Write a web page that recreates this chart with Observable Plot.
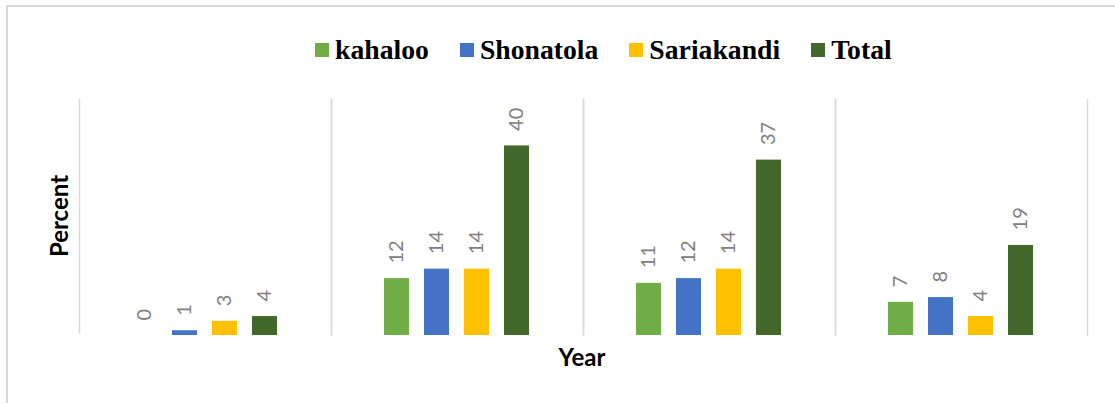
<!DOCTYPE html>
<html>
<head>
<meta charset="utf-8">
<script src="https://cdn.jsdelivr.net/npm/d3@7"></script>
<script src="https://cdn.jsdelivr.net/npm/@observablehq/plot@0.6"></script>
<style>
  html, body { margin: 0; padding: 0; background: #fff; }
  #wrap { position: relative; width: 1115px; height: 403px; overflow: hidden; background: #fff; }
  #border { position: absolute; left: 6px; top: 5px; width: 1200px; height: 500px;
            border-top: 2px solid #d9d9d9; border-left: 2px solid #d9d9d9; box-sizing: border-box; }
  #chart { position: absolute; left: 0; top: 0; }
  #legend { position: absolute; left: 315px; top: 33px; height: 34px; display: flex; align-items: center;
            font-family: "Liberation Serif", "Times New Roman", serif; font-weight: bold; font-size: 27.7px; color: #000; }
  .item { display: flex; align-items: center; margin-right: 31px; white-space: nowrap; }
  .sw { width: 14px; height: 14px; margin-right: 6px; flex: none; }
  #ylab { position: absolute; left: 58px; top: 216px; transform: translate(-50%, -50%) rotate(-90deg);
          font-family: Lato, sans-serif; font-weight: bold; font-size: 24px; color: #000; white-space: nowrap; }
  #xlab { position: absolute; left: 582px; top: 356px; transform: translate(-50%, -50%);
          font-family: Lato, sans-serif; font-weight: bold; font-size: 24px; color: #000; white-space: nowrap; }
</style>
</head>
<body>
<div id="wrap">
  <div id="border"></div>
  <div id="chart"></div>
  <div id="legend"></div>
  <div id="ylab">Percent</div>
  <div id="xlab">Year</div>
</div>
<script>
// Data
const groups = ["Group 1", "Group 2", "Group 3", "Group 4"];
const series = ["kahaloo", "Shonatola", "Sariakandi", "Total"];
const kahaloo    = [0, 12, 11, 7];
const shonatola  = [1, 14, 12, 8];
const sariakandi = [3, 14, 14, 4];
const total      = [4, 40, 37, 19];
const colors = ["#70AD47", "#4472C4", "#FFC000", "#43682B"];

const seriesValues = [kahaloo, shonatola, sariakandi, total];
const data = groups.flatMap((g, i) => series.map((s, j) => ({group: g, series: s, value: seriesValues[j][i]})));

const W = 1115, H = 403, mT = 98, mB = 68, mL = 77, mR = 27;
const facetW = (W - mL - mR) / groups.length;
const facetH = H - mT - mB;

const chart = Plot.plot({
  width: W,
  height: H,
  marginTop: mT,
  marginBottom: mB,
  marginLeft: mL,
  marginRight: mR,
  style: {background: "transparent"},
  fx: {domain: groups, padding: 0, axis: null},
  x: {domain: series, paddingInner: 0.366, paddingOuter: 1.266, axis: null},
  y: {domain: [0, 50], axis: null},
  color: {domain: series, range: colors},
  marks: [
    Plot.frame({stroke: "#d9d9d9", strokeWidth: 1.5,
      strokeDasharray: `0 ${facetW} ${facetH} ${facetW} ${facetH}`}),
    Plot.barY(data, {fx: "group", x: "series", y: "value", fill: "series"}),
    Plot.text(data, {fx: "group", x: "series", y: "value", text: d => String(d.value),
      rotate: -90, textAnchor: "start", dy: -15, fill: "#808080",
      fontSize: 20, fontFamily: "Lato, sans-serif"})
  ]
});
document.getElementById("chart").appendChild(chart);

const legend = document.getElementById("legend");
series.forEach((s, i) => {
  const item = document.createElement("div");
  item.className = "item";
  const sw = document.createElement("span");
  sw.className = "sw";
  sw.style.background = colors[i];
  const t = document.createElement("span");
  t.textContent = s;
  item.appendChild(sw);
  item.appendChild(t);
  legend.appendChild(item);
});
</script>
</body>
</html>
